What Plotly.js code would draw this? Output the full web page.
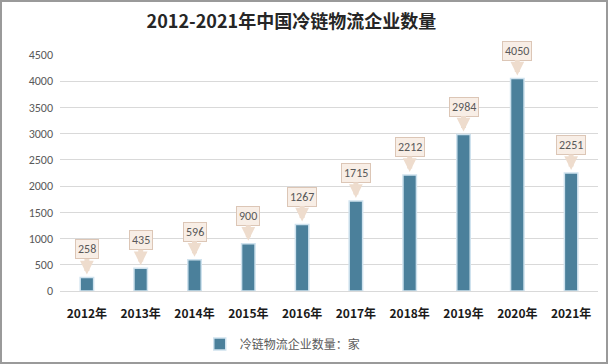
<!DOCTYPE html>
<html><head><meta charset="utf-8">
<script src="https://cdn.plot.ly/plotly-3.0.1.min.js"></script>
<style>
html,body{margin:0;padding:0;background:#fff;}
#chart{width:608px;height:364px;box-sizing:border-box;border:2px solid #9a9a9a;}
</style></head>
<body><div id="chart"></div>
<script>
const years = ['2012年','2013年','2014年','2015年','2016年','2017年','2018年','2019年','2020年','2021年'];
const counts = [258, 435, 596, 900, 1267, 1715, 2212, 2984, 4050, 2251];
const seriesName = '冷链物流企业数量：家';
const titleText = '2012-2021年中国冷链物流企业数量';

const annotations = years.map((y, i) => ({
  x: y, y: counts[i], xref: 'x', yref: 'y',
  text: String(counts[i]),
  showarrow: true, ax: 0, ay: -28,
  arrowhead: 2, arrowsize: 0.55, arrowwidth: 5, arrowcolor: '#eedccd',
  standoff: 3,
  bgcolor: '#f8eee6', bordercolor: '#dcc6b6', borderwidth: 1, borderpad: 2,
  font: {family: 'Calibri, Carlito, "Liberation Sans", sans-serif', size: 12, color: '#595959'}
}));

const data = [{
  type: 'bar', x: years, y: counts, name: seriesName,
  width: 0.25,
  marker: {color: '#4b809b', line: {color: '#cfe2ee', width: 1.5}},
  hoverinfo: 'none'
}];

const layout = {
  width: 604, height: 360,
  margin: {l: 58, r: 8, t: 53, b: 71, autoexpand: false},
  paper_bgcolor: '#ffffff', plot_bgcolor: '#ffffff',
  title: {text: titleText, xref: 'paper', x: 0.43, xanchor: 'center', yref: 'container', y: 0.944, yanchor: 'middle',
    font: {family: '"Noto Sans CJK SC", sans-serif', size: 18, color: '#262626', weight: 'bold'}},
  xaxis: {type: 'category', showgrid: false, zeroline: false, showline: false, ticks: '',
    ticklabelstandoff: 14,
    tickfont: {family: '"Noto Sans CJK SC", sans-serif', size: 12, color: '#1a1a1a', weight: 'bold'}},
  yaxis: {range: [0, 4500], dtick: 500, tick0: 0, showgrid: true, gridcolor: '#d9d9d9', gridwidth: 1,
    zeroline: true, zerolinecolor: '#d9d9d9', showline: false, ticks: '', ticklen: 0,
    ticklabelstandoff: 6,
    tickfont: {family: 'Calibri, Carlito, "Liberation Sans", sans-serif', size: 12, color: '#595959'}},
  showlegend: true,
  legend: {orientation: 'h', xref: 'paper', x: 0.414, xanchor: 'center', yref: 'container', y: 0.05, yanchor: 'middle', itemwidth: 30,
    font: {family: '"Noto Sans CJK SC", sans-serif', size: 12, color: '#595959'}},
  annotations: annotations,
  bargap: 0.75
};

Plotly.newPlot('chart', data, layout, {displayModeBar: false, staticPlot: true});
</script></body></html>
